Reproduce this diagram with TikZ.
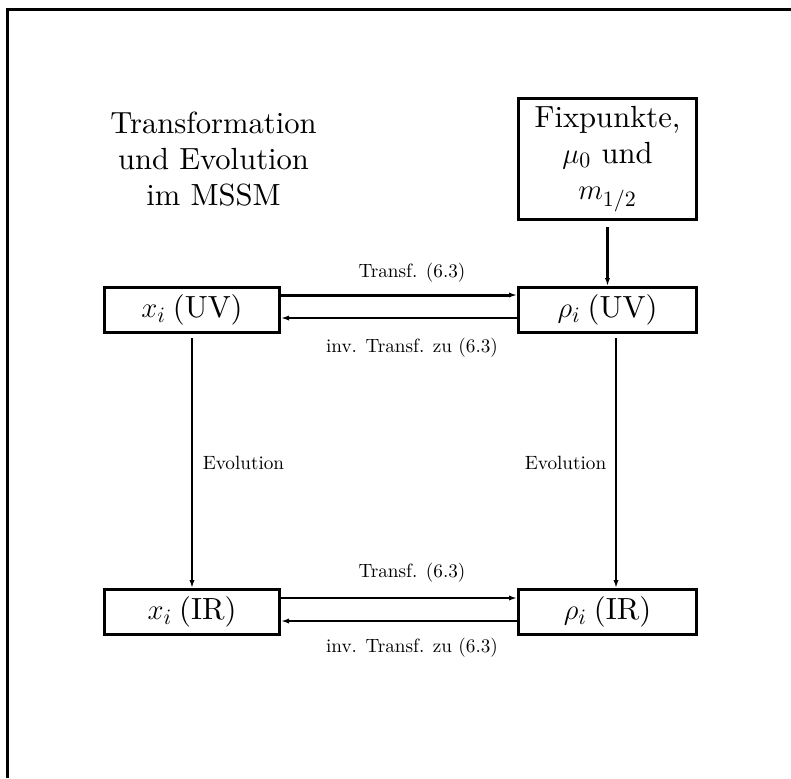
\documentclass[tikz,border=0pt]{standalone}
\usetikzlibrary{arrows.meta}
\font\bigrm="[lmroman10-regular]:mapping=tex-text" at 15.3pt
\begin{document}
\begin{tikzpicture}[x=0.5pt,y=-0.5pt,
  bigtext/.style={font=\fontsize{15.3}{18}\selectfont\bigrm},
  box/.style={draw, line width=1.3pt, minimum width=87.7pt, minimum height=22.7pt, inner sep=0pt, bigtext},
  rbox/.style={box, minimum width=89.2pt},
  lbl/.style={font=\fontsize{9.6}{11}\selectfont, inner sep=0pt, xshift=6.5pt},
  tip/.style={-{Latex[length=4pt,width=2.6pt]}},
  thickarr/.style={tip, line width=1.5pt},
  thinarr/.style={tip, line width=1pt},
  vertarr/.style={tip, line width=0.8pt},
  ]
\useasboundingbox (0,0) rectangle (791,778);
\draw[line width=1.5pt] (7,778) -- (7,9) -- (791,9);

\node[align=center, bigtext] (title) at (213.5,159) {Transformation\\ und Evolution\\ im MSSM};

\node[box] (xuv) at (192,310) {$x_i$\hspace{3.5pt}(UV)};
\node[rbox] (ruv) at (607.5,310) {$\rho_i$\hspace{3.5pt}(UV)};
\node[box] (xir) at (192,612) {$x_i$\hspace{3.5pt}(IR)};
\node[rbox] (rir) at (607.5,612) {$\rho_i$\hspace{3.5pt}(IR)};
\node[rbox, minimum height=60.7pt, align=center] (fix) at (607.5,159) {Fixpunkte,\\ $\mu_0$ und\\ $m_{1/2}$};

\draw[thickarr] ([yshift=-3pt]fix.south) -- (ruv.north);

\draw[thickarr] ([yshift=7.5pt]xuv.east) -- ([yshift=7.5pt]ruv.west)
  node[lbl, midway, above=5.5pt] (t1) {Transf. (6.3)};
\draw[thinarr] ([yshift=-4pt]ruv.west) -- ([yshift=-4pt]xuv.east)
  node[lbl, midway, below=9.5pt] (i1) {inv. Transf. zu (6.3)};

\draw[thinarr] ([yshift=7pt]xir.east) -- ([yshift=7pt]rir.west)
  node[lbl, midway, above=7.5pt] (t2) {Transf. (6.3)};
\draw[thinarr] ([yshift=-4.5pt]rir.west) -- ([yshift=-4.5pt]xir.east)
  node[lbl, midway, below=8pt] (i2) {inv. Transf. zu (6.3)};

\draw[vertarr] ([yshift=-2pt]xuv.south) -- (xir.north)
  node[lbl, xshift=-6.5pt, midway, right=5pt] (e1) {Evolution};
\draw[vertarr] ([xshift=4.25pt,yshift=-2pt]ruv.south) -- ([xshift=4.25pt]rir.north)
  node[lbl, xshift=-6.5pt, midway, left=4.5pt] (e2) {Evolution};
\end{tikzpicture}
\end{document}
